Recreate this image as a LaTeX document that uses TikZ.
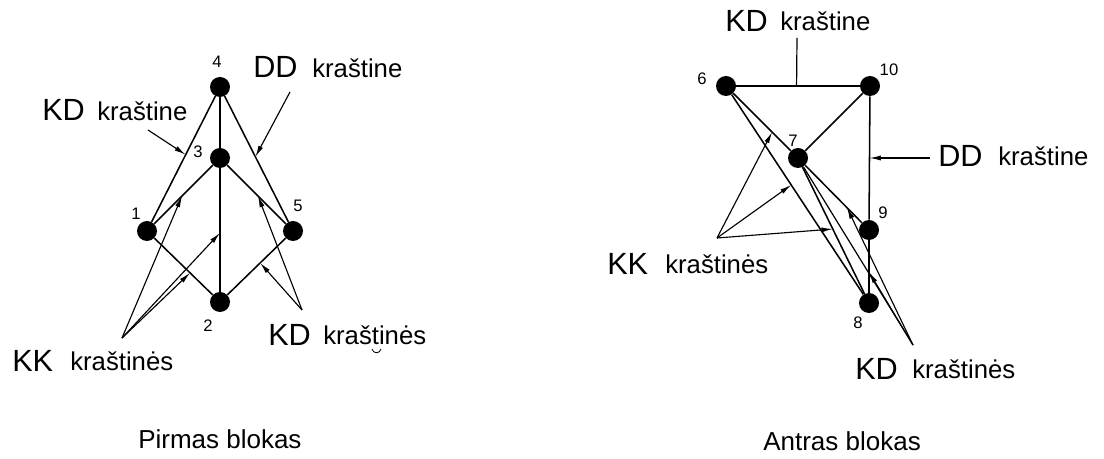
\documentclass[tikz,border=0pt]{standalone}
\usepackage{fontspec}
\setmainfont{Liberation Sans}
\usetikzlibrary{arrows.meta,calc}

\begin{document}
\begin{tikzpicture}[x=0.75pt,y=-0.75pt,
  vertex/.style={circle,fill=black,inner sep=0pt,minimum size=15pt},
  edge/.style={line width=1.15pt},
  pointer/.style={line width=0.85pt,-{Latex[length=8.5pt,width=3.8pt]}},
  lead/.style={line width=0.9pt},
  num/.style={font=\fontsize{12.5}{14}\selectfont,inner sep=0pt},
  big/.style={font=\fontsize{23}{27}\selectfont,anchor=base west,inner sep=0pt},
  small/.style={font=\fontsize{19.3}{23}\selectfont,anchor=base west,inner sep=0pt},
  caption/.style={font=\fontsize{19.5}{23}\selectfont,anchor=base west,inner sep=0pt}]

\fill[white] (0,0) rectangle (1104,459);
\useasboundingbox (0,0) rectangle (1104,459);

% ---------- first block ----------
\node[vertex] (v4) at (220,87) {};
\node[vertex] (v3) at (220,158) {};
\node[vertex] (v1) at (147,231) {};
\node[vertex] (v5) at (293,231) {};
\node[vertex] (v2) at (220,302) {};

\node[num] (l4) at (217,62) {4};
\node[num] (l3) at (198,152) {3};
\node[num] (l1) at (136,214) {1};
\node[num] (l5) at (298,206) {5};
\node[num] (l2) at (208,326) {2};

\draw[edge] (v4) -- (v3);
\draw[edge] (v3) -- (v2);
\draw[edge] (v4) -- (v1);
\draw[edge] (v4) -- (v5);
\draw[edge] (v3) -- (v1);
\draw[edge] (v3) -- (v5);
\draw[edge] (v1) -- (v2);
\draw[edge] (v5) -- (v2);

% points on the edges that the pointers reach
\coordinate (p41) at ($(v4.center)!0.47!(v1.center)$);
\coordinate (p45) at ($(v4.center)!0.485!(v5.center)$);
\coordinate (p31) at ($(v3.center)!0.52!(v1.center)$);
\coordinate (p32) at ($(v3.center)!0.52!(v2.center)$);
\coordinate (p12) at ($(v1.center)!0.59!(v2.center)$);
\coordinate (p35) at ($(v3.center)!0.52!(v5.center)$);
\coordinate (p52) at ($(v5.center)!0.45!(v2.center)$);

% free ends of the pointers
\coordinate (sKD1) at (148,130);
\coordinate (sDD1) at (290,92);
\coordinate (sKK1) at (122,338);
\coordinate (sKDs1) at (302,310);

\draw[pointer] (sKD1) -- (p41);
\draw[pointer] (sDD1) -- (p45);
\draw[pointer] (sKK1) -- (p31);
\draw[pointer] (sKK1) -- (p32);
\draw[pointer] (sKK1) -- (p12);
\draw[pointer] (sKDs1) -- (p35);
\draw[pointer] (sKDs1) -- (p52);

\node[big]   (tKD1a) at (42,121) {KD};
\node[small] (tKD1b) at (97,121) {kraštine};
\node[big]   (tDD1a) at (253,78) {DD};
\node[small] (tDD1b) at (312,78) {kraštine};
\node[big]   (tKK1a) at (12,372) {KK};
\node[small] (tKK1b) at (70,371) {kraštinės};
\node[big]   (tKDs1a) at (268,346) {KD};
\node[small] (tKDs1b) at (323,345) {kraštinės};
% small mark under the letter t
\draw[line width=0.6pt] (372,349) .. controls (373,354) and (380,354) .. (381,349);

\node[caption] (cap1) at (138,449) {Pirmas blokas};

% ---------- second block ----------
\node[vertex] (v6) at (726,86) {};
\node[vertex] (v10) at (870,86) {};
\node[vertex] (v7) at (798,158) {};
\node[vertex] (v9) at (869,230) {};
\node[vertex] (v8) at (869,303) {};

\node[num] (l6) at (702,79) {6};
\node[num] (l10) at (889,70) {10};
\node[num] (l7) at (793,141) {7};
\node[num] (l9) at (883,213) {9};
\node[num] (l8) at (858,323) {8};

\draw[edge] (v6) -- (v10);
\draw[edge] (v10) -- (v7);
\draw[edge] (v10) -- (v9);
\draw[edge] (v9) -- (v8);
\draw[edge] (v6) -- (v7);
\draw[edge] (v7) -- (v9);
\draw[edge] (v6) -- (v8);
\draw[edge] (v7) -- (v8);

\coordinate (q610) at ($(v6.center)!0.49!(v10.center)$);
\coordinate (q109) at ($(v10.center)!0.5!(v9.center)$);
\coordinate (q67) at ($(v6.center)!0.64!(v7.center)$);
\coordinate (q68) at ($(v6.center)!0.456!(v8.center)$);
\coordinate (q78) at ($(v7.center)!0.49!(v8.center)$);
\coordinate (q79) at ($(v7.center)!0.69!(v9.center)$);
\coordinate (q98) at ($(v9.center)!0.575!(v8.center)$);

\coordinate (sKD2) at (797,38);
\coordinate (sDD2) at (930,158);
\coordinate (sKK2) at (717,238);
\coordinate (sKDs2) at (913,345);

\draw[lead] (sKD2) -- (q610);
\draw[pointer] (sDD2) -- (q109);
\draw[pointer] (sKK2) -- (q67);
\draw[pointer] (sKK2) -- (q68);
\draw[pointer] (sKK2) -- (q78);
\draw[pointer] (sKDs2) -- (q79);
\draw[pointer] (sKDs2) -- (q98);
\draw[lead] (sKDs2) -- (v7);

\node[big]   (tKD2a) at (725,32) {KD};
\node[small] (tKD2b) at (780,31) {kraštine};
\node[big]   (tDD2a) at (938,167) {DD};
\node[small] (tDD2b) at (998,166) {kraštine};
\node[big]   (tKK2a) at (607,275) {KK};
\node[small] (tKK2b) at (665,274) {kraštinės};
\node[big]   (tKDs2a) at (855,380) {KD};
\node[small] (tKDs2b) at (912,379) {kraštinės};

\node[caption] (cap2) at (763,451) {Antras blokas};
\end{tikzpicture}
\end{document}
